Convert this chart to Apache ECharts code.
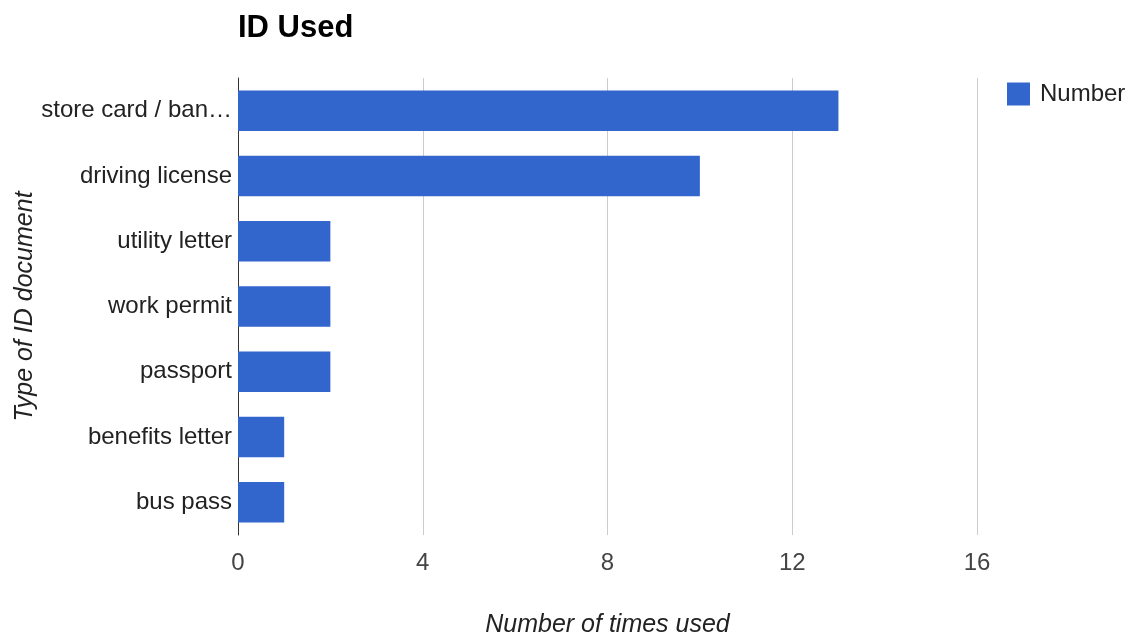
<!DOCTYPE html>
<html><head><meta charset="utf-8">
<script src="https://cdn.jsdelivr.net/npm/echarts@6/dist/echarts.min.js"></script>
<style>html,body{margin:0;padding:0;background:#fff}#c{width:1129px;height:639px}</style>
</head><body><div id="c"></div>
<script>
const categories = ["store card / bank card", "driving license", "utility letter", "work permit", "passport", "benefits letter", "bus pass"];
const values = [13, 10, 2, 2, 2, 1, 1];
const seriesName = "Number";
const xTicks = { min: 0, max: 16, interval: 4 };

const FONT = '"Liberation Sans", Arial, sans-serif';
const chart = echarts.init(document.getElementById('c'));
chart.setOption({
  backgroundColor: '#fff',
  animation: false,
  title: {
    text: 'ID Used', left: 233, top: 8,
    textStyle: { fontFamily: FONT, fontSize: 31, fontWeight: 'bold', color: '#000' }
  },
  legend: {
    data: [seriesName], left: 1002, top: 77, itemWidth: 23, itemHeight: 23,
    icon: 'rect',
    textStyle: { fontFamily: FONT, fontSize: 24, color: '#222', padding: [0, 0, 0, 5] }
  },
  grid: { left: 238, right: 152, top: 78, bottom: 104, containLabel: false, outerBoundsMode: 'none' },
  xAxis: {
    type: 'value', min: xTicks.min, max: xTicks.max, interval: xTicks.interval,
    name: 'Number of times used', nameLocation: 'middle', nameGap: 78, nameMoveOverlap: false,
    nameTextStyle: { fontFamily: FONT, fontSize: 25, fontStyle: 'italic', color: '#222' },
    axisLine: { show: false }, axisTick: { show: false },
    axisLabel: { fontFamily: FONT, fontSize: 24, color: '#444', margin: 16 },
    splitLine: { lineStyle: { color: '#cccccc', width: 1 } }
  },
  yAxis: {
    type: 'category', data: categories, inverse: true,
    name: 'Type of ID document', nameLocation: 'middle', nameGap: 200, nameMoveOverlap: false,
    nameTextStyle: { fontFamily: FONT, fontSize: 25, fontStyle: 'italic', color: '#222' },
    axisLine: { show: true, lineStyle: { color: '#333', width: 1 } },
    axisTick: { show: false },
    axisLabel: { fontFamily: FONT, fontSize: 24, color: '#222', margin: 6,
      width: 194, overflow: 'truncate', ellipsis: '…' },
    splitLine: { show: false }
  },
  series: [{
    name: seriesName, type: 'bar', data: values, barCategoryGap: '38%',
    itemStyle: { color: '#3366cc' }
  }]
});
</script></body></html>
